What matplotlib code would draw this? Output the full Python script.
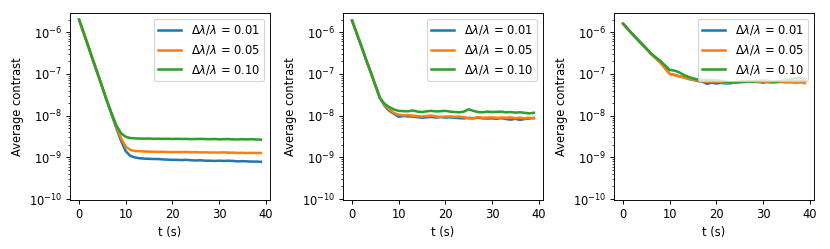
import numpy as np
import matplotlib
matplotlib.use("Agg")
import matplotlib.pyplot as plt

# time axis (s)
t = np.arange(40)

labels = [r"$\Delta\lambda/\lambda$ = 0.01",
          r"$\Delta\lambda/\lambda$ = 0.05",
          r"$\Delta\lambda/\lambda$ = 0.10"]

# ---- panel 1 ----
p1_001 = [2.0e-6, 9.5e-7, 4.5e-7, 2.1e-7, 1.0e-7, 4.7e-8, 2.2e-8, 1.05e-8,
          5.0e-9, 2.5e-9, 1.4e-9, 1.08e-9, 9.9e-10, 9.5e-10, 9.3e-10, 9.2e-10,
          9.1e-10, 9.1e-10, 8.9e-10, 8.8e-10, 8.7e-10, 8.7e-10, 8.6e-10, 8.7e-10,
          8.5e-10, 8.4e-10, 8.5e-10, 8.3e-10, 8.3e-10, 8.2e-10, 8.3e-10, 8.2e-10,
          8.3e-10, 8.2e-10, 8.0e-10, 8.1e-10, 8.0e-10, 7.9e-10, 7.9e-10, 7.8e-10]
p1_005 = [2.0e-6, 9.5e-7, 4.5e-7, 2.1e-7, 1.0e-7, 4.7e-8, 2.2e-8, 1.1e-8,
          5.5e-9, 2.9e-9, 1.8e-9, 1.5e-9, 1.42e-9, 1.4e-9, 1.38e-9, 1.37e-9,
          1.36e-9, 1.35e-9, 1.36e-9, 1.34e-9, 1.33e-9, 1.34e-9, 1.33e-9, 1.35e-9,
          1.32e-9, 1.33e-9, 1.31e-9, 1.32e-9, 1.3e-9, 1.31e-9, 1.3e-9, 1.32e-9,
          1.29e-9, 1.3e-9, 1.27e-9, 1.28e-9, 1.27e-9, 1.28e-9, 1.27e-9, 1.27e-9]
p1_010 = [2.0e-6, 9.5e-7, 4.5e-7, 2.1e-7, 1.0e-7, 4.7e-8, 2.2e-8, 1.1e-8,
          5.8e-9, 3.8e-9, 3.1e-9, 2.9e-9, 2.85e-9, 2.82e-9, 2.8e-9, 2.82e-9,
          2.78e-9, 2.8e-9, 2.77e-9, 2.79e-9, 2.76e-9, 2.78e-9, 2.75e-9, 2.77e-9,
          2.73e-9, 2.75e-9, 2.77e-9, 2.74e-9, 2.72e-9, 2.75e-9, 2.7e-9, 2.72e-9,
          2.74e-9, 2.7e-9, 2.68e-9, 2.72e-9, 2.7e-9, 2.72e-9, 2.68e-9, 2.65e-9]

# ---- panel 2 ----
p2_001 = [1.9e-6, 9.3e-7, 4.6e-7, 2.2e-7, 1.1e-7, 5.3e-8, 2.6e-8, 1.7e-8,
          1.3e-8, 1.1e-8, 9.4e-9, 9.8e-9, 9.6e-9, 9.5e-9, 9.2e-9, 8.9e-9,
          9.1e-9, 9.3e-9, 9.0e-9, 9.2e-9, 9.0e-9, 9.1e-9, 8.9e-9, 8.7e-9,
          8.6e-9, 8.8e-9, 8.7e-9, 8.9e-9, 8.6e-9, 8.5e-9, 8.6e-9, 8.4e-9,
          8.7e-9, 8.3e-9, 8.0e-9, 8.4e-9, 7.9e-9, 8.3e-9, 8.5e-9, 8.8e-9]
p2_005 = [1.9e-6, 9.3e-7, 4.6e-7, 2.2e-7, 1.1e-7, 5.3e-8, 2.6e-8, 1.8e-8,
          1.4e-8, 1.15e-8, 1.05e-8, 1.02e-8, 1.03e-8, 1.0e-8, 9.7e-9, 9.5e-9,
          9.8e-9, 1.0e-8, 9.6e-9, 9.3e-9, 9.5e-9, 9.6e-9, 9.4e-9, 9.5e-9,
          9.2e-9, 8.6e-9, 8.5e-9, 9.2e-9, 8.9e-9, 9.0e-9, 9.1e-9, 8.8e-9,
          9.0e-9, 8.9e-9, 9.1e-9, 8.7e-9, 8.9e-9, 8.6e-9, 8.9e-9, 8.6e-9]
p2_010 = [1.9e-6, 9.3e-7, 4.6e-7, 2.2e-7, 1.1e-7, 5.3e-8, 2.6e-8, 1.9e-8,
          1.6e-8, 1.4e-8, 1.3e-8, 1.28e-8, 1.27e-8, 1.33e-8, 1.25e-8, 1.22e-8,
          1.27e-8, 1.3e-8, 1.26e-8, 1.28e-8, 1.3e-8, 1.25e-8, 1.22e-8, 1.2e-8,
          1.25e-8, 1.42e-8, 1.3e-8, 1.22e-8, 1.2e-8, 1.25e-8, 1.22e-8, 1.23e-8,
          1.25e-8, 1.2e-8, 1.22e-8, 1.18e-8, 1.2e-8, 1.17e-8, 1.13e-8, 1.17e-8]

# ---- panel 3 ----
p3_001 = [1.6e-6, 1.2e-6, 9.0e-7, 6.8e-7, 5.2e-7, 4.0e-7, 3.0e-7, 2.4e-7,
          1.9e-7, 1.4e-7, 1.0e-7, 9.5e-8, 8.8e-8, 8.3e-8, 7.6e-8, 7.2e-8,
          6.8e-8, 6.5e-8, 5.8e-8, 6.2e-8, 5.9e-8, 6.1e-8, 5.9e-8, 6.0e-8,
          6.3e-8, 6.4e-8, 6.5e-8, 6.6e-8, 6.5e-8, 6.4e-8, 6.2e-8, 6.4e-8,
          6.3e-8, 6.5e-8, 6.6e-8, 6.5e-8, 6.7e-8, 6.6e-8, 6.9e-8, 6.8e-8]
p3_005 = [1.6e-6, 1.2e-6, 9.0e-7, 6.9e-7, 5.3e-7, 4.0e-7, 3.0e-7, 2.4e-7,
          1.85e-7, 1.35e-7, 1.0e-7, 9.3e-8, 8.8e-8, 8.2e-8, 7.7e-8, 7.3e-8,
          7.0e-8, 6.7e-8, 6.5e-8, 6.6e-8, 6.6e-8, 6.4e-8, 6.2e-8, 6.0e-8,
          6.2e-8, 6.4e-8, 6.5e-8, 6.8e-8, 6.6e-8, 6.5e-8, 6.7e-8, 6.4e-8,
          6.2e-8, 6.3e-8, 6.4e-8, 6.2e-8, 6.3e-8, 6.1e-8, 6.3e-8, 6.0e-8]
p3_010 = [1.6e-6, 1.2e-6, 9.0e-7, 7.0e-7, 5.3e-7, 4.1e-7, 3.1e-7, 2.5e-7,
          2.05e-7, 1.6e-7, 1.25e-7, 1.2e-7, 1.1e-7, 9.5e-8, 8.5e-8, 7.8e-8,
          7.4e-8, 7.2e-8, 7.3e-8, 7.0e-8, 7.0e-8, 6.8e-8, 6.5e-8, 6.1e-8,
          6.3e-8, 6.4e-8, 6.4e-8, 6.6e-8, 6.6e-8, 6.8e-8, 7.0e-8, 6.9e-8,
          6.5e-8, 6.6e-8, 6.8e-8, 7.2e-8, 7.5e-8, 7.8e-8, 8.0e-8, 7.5e-8]

panels = [(p1_001, p1_005, p1_010),
          (p2_001, p2_005, p2_010),
          (p3_001, p3_005, p3_010)]

# 10x3 in at 83 dpi -> 830x249 px
fig = plt.figure(figsize=(10, 3), dpi=83)
lefts = [70 / 830, 343 / 830, 614 / 830]
for left, series in zip(lefts, panels):
    ax = fig.add_axes([left, 0.197, 200 / 830, 0.751])
    for y, lab in zip(series, labels):
        ax.plot(t, y, lw=2.2, label=lab)
    ax.set_yscale('log')
    ax.set_ylim(9.5e-11, 2.9e-6)
    ax.set_xticks([0, 10, 20, 30, 40])
    ax.set_xlabel('t (s)')
    ax.set_ylabel('Average contrast')
    ax.legend(loc='upper right')

fig.savefig('out.png', dpi=83)
